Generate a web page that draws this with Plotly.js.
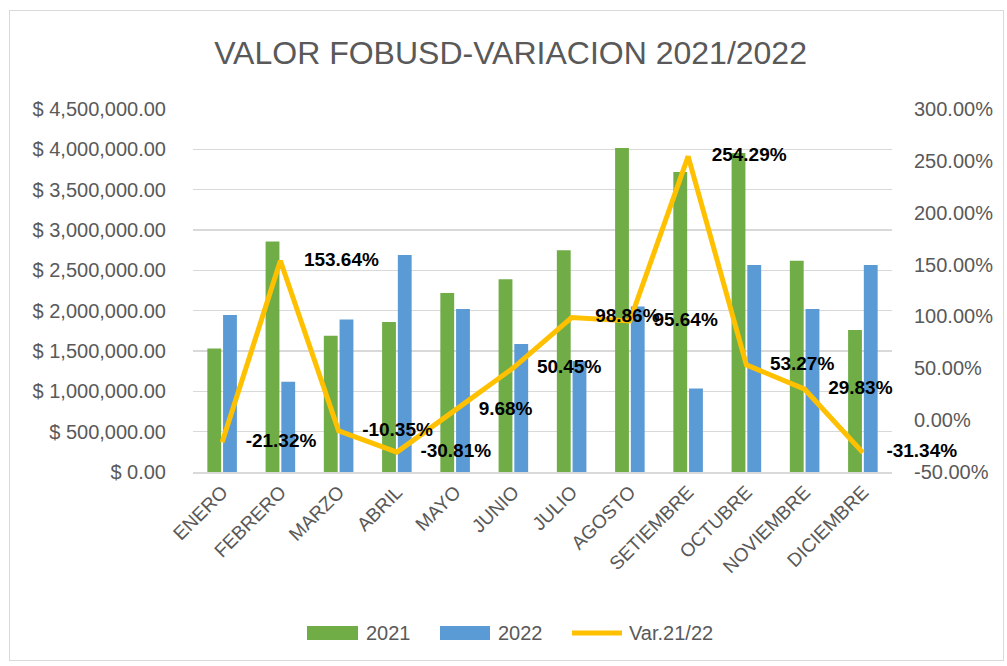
<!DOCTYPE html>
<html>
<head>
<meta charset="utf-8">
<script src="https://cdn.plot.ly/plotly-3.0.1.min.js"></script>
<style>
html,body{margin:0;padding:0;background:#fff;}
#wrap{position:relative;width:1007px;height:666px;}
#chart{width:1007px;height:666px;}
#frame{position:absolute;left:9px;top:10px;width:993px;height:649px;border:1px solid #D9D9D9;pointer-events:none;}
</style>
</head>
<body>
<div id="wrap"><div id="chart"></div><div id="frame"></div></div>
<script>
const months = ["ENERO","FEBRERO","MARZO","ABRIL","MAYO","JUNIO","JULIO","AGOSTO","SETIEMBRE","OCTUBRE","NOVIEMBRE","DICIEMBRE"];
const values2021 = [1532000, 2856000, 1689000, 1859000, 2219000, 2389000, 2749000, 4016000, 3718000, 3954000, 2620000, 1760000];
const values2022 = [1946000, 1118000, 1892000, 2691000, 2020000, 1586000, 1375000, 2053000, 1036000, 2567000, 2020000, 2567000];
const variation = [-21.32, 153.64, -10.35, -30.81, 9.68, 50.45, 98.86, 95.64, 254.29, 53.27, 29.83, -31.34];
const seriesNames = ["2021", "2022", "Var.21/22"];
const leftTicks = [0,500000,1000000,1500000,2000000,2500000,3000000,3500000,4000000,4500000];
const rightTicks = [-50,0,50,100,150,200,250,300];
const colors = ["#70AD47", "#5B9BD5", "#FFC000"];

const FONT = "Liberation Sans, Arial, sans-serif";
const GREY = "#595959";

const fmtMoney = v => "$ " + v.toLocaleString("en-US", {minimumFractionDigits:2, maximumFractionDigits:2});
const fmtPct = v => v.toFixed(2) + "%";

const traces = [
  {type:"bar", name:seriesNames[0], x:months, y:values2021, marker:{color:colors[0]}, yaxis:"y", hoverinfo:"skip"},
  {type:"bar", name:seriesNames[1], x:months, y:values2022, marker:{color:colors[1]}, yaxis:"y", hoverinfo:"skip"},
  {type:"scatter", name:seriesNames[2], x:months, y:variation, yaxis:"y2",
   mode:"lines+markers+text", line:{color:colors[2], width:5},
   marker:{size:36, color:"rgba(0,0,0,0)"},
   text: variation.map(fmtPct),
   textposition:"middle right",
   textfont:{family:FONT, size:19, color:"#000000", weight:"bold"},
   cliponaxis:false, hoverinfo:"skip"}
];

// custom legend
const shapes = [];
const annotations = [];
const legY = (472-633)/363;
const px = x => (x-193)/699;
shapes.push({type:"rect", xref:"paper", yref:"paper", x0:px(307), x1:px(358), y0:legY-7/363, y1:legY+7/363, fillcolor:colors[0], line:{width:0}});
shapes.push({type:"rect", xref:"paper", yref:"paper", x0:px(440), x1:px(490), y0:legY-7/363, y1:legY+7/363, fillcolor:colors[1], line:{width:0}});
shapes.push({type:"line", xref:"paper", yref:"paper", x0:px(572), x1:px(622), y0:legY, y1:legY, line:{color:colors[2], width:5}});
[[364,seriesNames[0]],[496,seriesNames[1]],[627,seriesNames[2]]].forEach(([x,t]) => {
  annotations.push({xref:"paper", yref:"paper", x:px(x), y:legY, text:t, showarrow:false, xanchor:"left", yanchor:"middle",
    font:{family:FONT, size:20, color:GREY}});
});

const layout = {
  width:1007, height:666,
  margin:{l:193, r:115, t:109, b:194},
  paper_bgcolor:"#ffffff", plot_bgcolor:"#ffffff",
  showlegend:false,
  barmode:"group", bargap:0.46, bargroupgap:0.12,
  title:{text:"VALOR FOBUSD-VARIACION 2021/2022", x:0.507, xref:"container", y:1-53/666, yanchor:"middle",
    font:{family:FONT, size:32, color:GREY}},
  xaxis:{type:"category", range:[-0.5, 11.5], autorange:false, tickangle:-45, tickfont:{family:FONT, size:19, color:GREY},
    showgrid:false, showline:true, linecolor:"#D9D9D9", linewidth:1.5, ticks:"", zeroline:false},
  yaxis:{range:[0,4500000], tickmode:"array", tickvals:leftTicks, ticktext:leftTicks.map(fmtMoney),
    tickfont:{family:FONT, size:20, color:GREY},
    showgrid:true, gridcolor:"#D9D9D9", gridwidth:1.5, zeroline:false, showline:false,
    ticks:"outside", ticklen:22, tickcolor:"rgba(0,0,0,0)"},
  yaxis2:{overlaying:"y", side:"right", range:[-50,300], tickmode:"array", tickvals:rightTicks, ticktext:rightTicks.map(fmtPct),
    tickfont:{family:FONT, size:20, color:GREY},
    showgrid:false, zeroline:false, showline:false,
    ticks:"outside", ticklen:17, tickcolor:"rgba(0,0,0,0)"},
  shapes:shapes, annotations:annotations
};

Plotly.newPlot("chart", traces, layout, {displayModeBar:false, staticPlot:true});
</script>
</body>
</html>
